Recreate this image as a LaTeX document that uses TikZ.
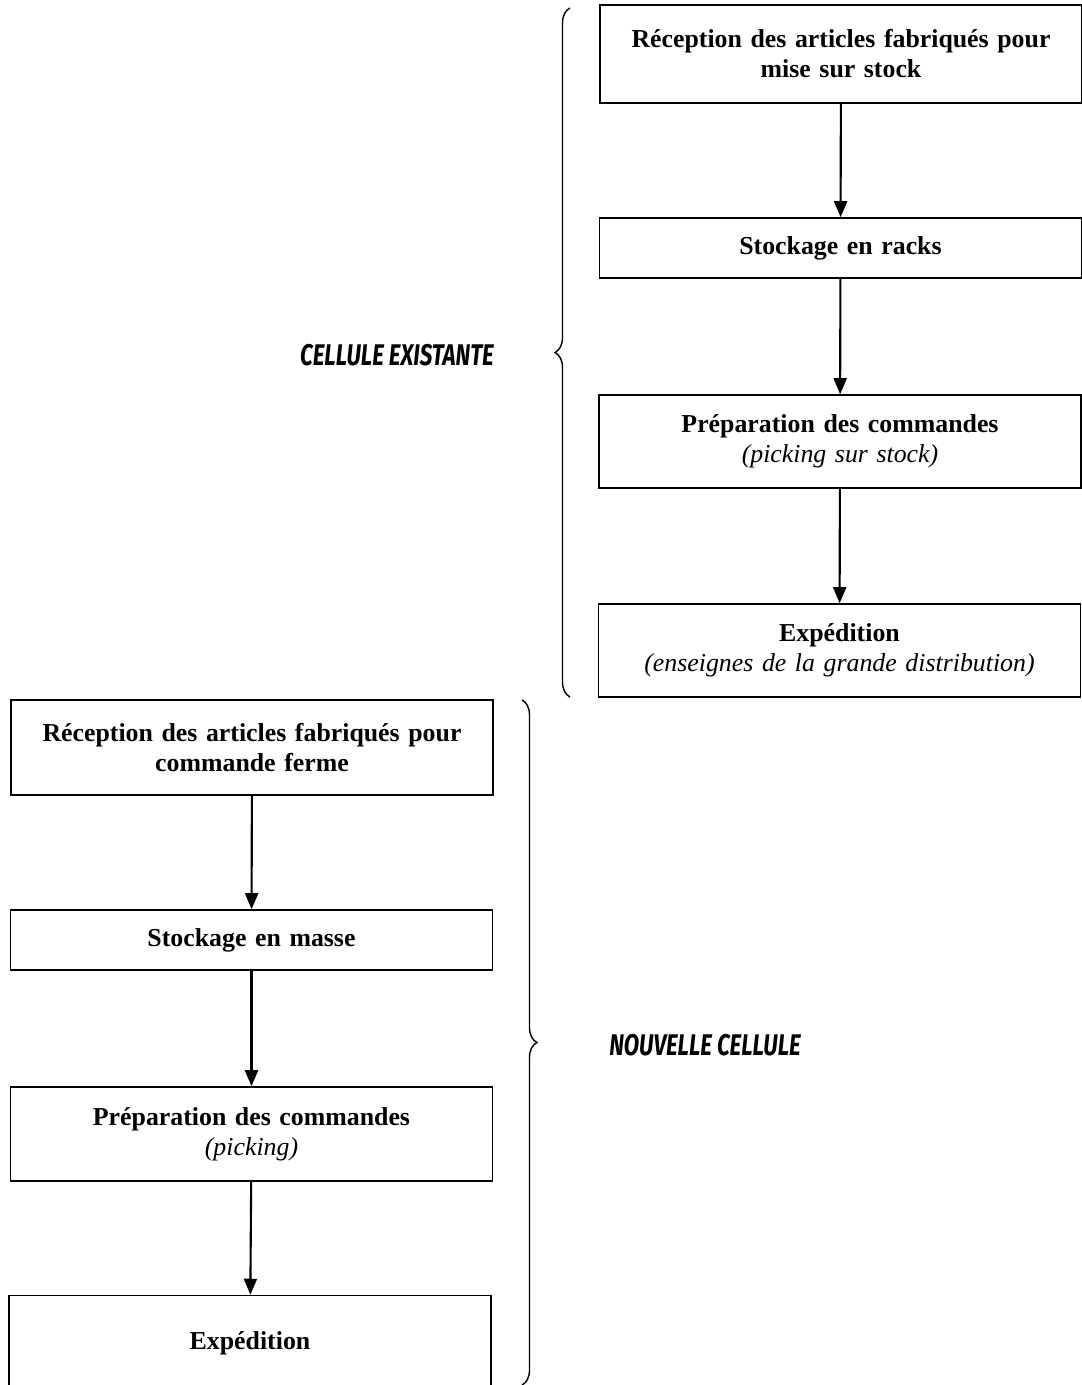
\documentclass[tikz,border=0pt]{standalone}
\usepackage{fontspec}
\setmainfont{Liberation Serif}
\newfontfamily\cellfont{Fira Sans}
\usetikzlibrary{arrows.meta,decorations.pathreplacing}
\tikzset{
  etape/.style={rectangle,draw=black,line width=0.9pt,minimum width=9.6cm,text width=9.4cm,align=center,font=\fontsize{14.7}{17}\selectfont\bfseries},
  fleche/.style={line width=1.2pt,-{Triangle[length=0.32cm,width=0.26cm]}},
  accolade/.style={decorate,decoration={brace,amplitude=0.3cm},line width=0.8pt},
  cellule/.style={font=\cellfont\fontsize{17}{19}\selectfont\bfseries\itshape}
}
\begin{document}
\begin{tikzpicture}[x=0.02cm,y=-0.02cm]
\useasboundingbox (0,0) rectangle (1081,1385);
% cellule existante
\node[etape,minimum height=1.96cm] (RS) at (841,54) {R\'eception des articles fabriqu\'es pour\\mise sur stock};
\node[etape,minimum height=1.2cm] (SR) at (840.5,248) {Stockage en racks};
\node[etape,minimum height=1.86cm] (PS) at (840,441.5) {Pr\'eparation des commandes\\{\mdseries\itshape (picking sur stock)}};
\node[etape,minimum height=1.86cm] (ES) at (839.5,650.5) {Exp\'edition\\{\mdseries\itshape (enseignes de la grande distribution)}};
\draw[fleche] (RS) to (SR);
\draw[fleche] (SR) to (PS);
\draw[fleche] (PS) to (ES);
% nouvelle cellule
\node[etape,minimum width=9.64cm,minimum height=1.9cm] (RC) at (252,747.5) {R\'eception des articles fabriqu\'es pour\\commande ferme};
\node[etape,minimum width=9.62cm,minimum height=1.2cm] (SM) at (251.5,940) {Stockage en masse};
\node[etape,minimum width=9.62cm,minimum height=1.88cm] (PC) at (251.5,1134) {Pr\'eparation des commandes\\{\mdseries\itshape (picking)}};
\node[etape,minimum width=9.64cm,minimum height=1.9cm] (EC) at (250,1343) {Exp\'edition};
\draw[fleche] (RC) to (SM);
\draw[fleche] (SM) to (PC);
\draw[fleche] (PC) to (EC);
% accolades
\coordinate (hautE) at (570,8);
\coordinate (basE) at (570,697);
\coordinate (hautN) at (522,700);
\coordinate (basN) at (522,1385);
\draw[accolade] (basE) to (hautE);
\draw[accolade] (hautN) to (basN);
\node[cellule] (CE) at (397,355) {\scalebox{0.75}[1]{CELLULE EXISTANTE}};
\node[cellule] (NC) at (705,1045) {\scalebox{0.75}[1]{NOUVELLE CELLULE}};
\end{tikzpicture}
\end{document}
